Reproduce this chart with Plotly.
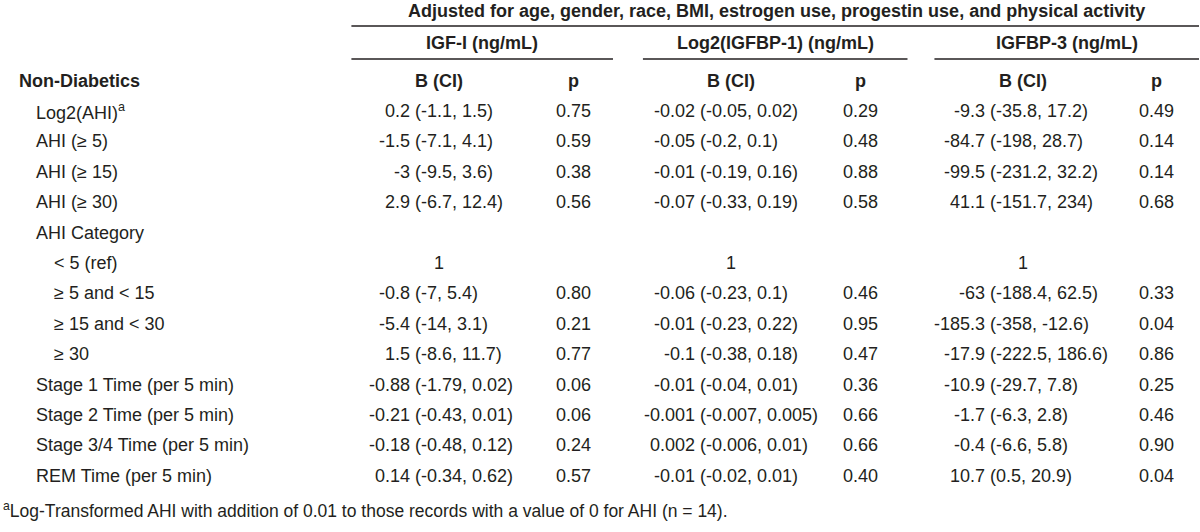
import plotly.graph_objects as go

# ---------------- data ----------------
title_text = "Adjusted for age, gender, race, BMI, estrogen use, progestin use, and physical activity"
group_names = ["IGF-I (ng/mL)", "Log2(IGFBP-1) (ng/mL)", "IGFBP-3 (ng/mL)"]
section_label = "Non-Diabetics"
row_labels = ["Log2(AHI)<sup>a</sup>", "AHI (≥ 5)", "AHI (≥ 15)", "AHI (≥ 30)", "AHI Category",
              "< 5 (ref)", "≥ 5 and < 15", "≥ 15 and < 30", "≥ 30",
              "Stage 1 Time (per 5 min)", "Stage 2 Time (per 5 min)",
              "Stage 3/4 Time (per 5 min)", "REM Time (per 5 min)"]
row_indent = [0, 0, 0, 0, 0, 1, 1, 1, 1, 0, 0, 0, 0]

igf1_b = ["0.2", "-1.5", "-3", "2.9", "", "1", "-0.8", "-5.4", "1.5", "-0.88", "-0.21", "-0.18", "0.14"]
igf1_ci = ["(-1.1, 1.5)", "(-7.1, 4.1)", "(-9.5, 3.6)", "(-6.7, 12.4)", "", "", "(-7, 5.4)", "(-14, 3.1)",
           "(-8.6, 11.7)", "(-1.79, 0.02)", "(-0.43, 0.01)", "(-0.48, 0.12)", "(-0.34, 0.62)"]
igf1_p = ["0.75", "0.59", "0.38", "0.56", "", "", "0.80", "0.21", "0.77", "0.06", "0.06", "0.24", "0.57"]

bp1_b = ["-0.02", "-0.05", "-0.01", "-0.07", "", "1", "-0.06", "-0.01", "-0.1", "-0.01", "-0.001", "0.002", "-0.01"]
bp1_ci = ["(-0.05, 0.02)", "(-0.2, 0.1)", "(-0.19, 0.16)", "(-0.33, 0.19)", "", "", "(-0.23, 0.1)",
          "(-0.23, 0.22)", "(-0.38, 0.18)", "(-0.04, 0.01)", "(-0.007, 0.005)", "(-0.006, 0.01)", "(-0.02, 0.01)"]
bp1_p = ["0.29", "0.48", "0.88", "0.58", "", "", "0.46", "0.95", "0.47", "0.36", "0.66", "0.66", "0.40"]

bp3_b = ["-9.3", "-84.7", "-99.5", "41.1", "", "1", "-63", "-185.3", "-17.9", "-10.9", "-1.7", "-0.4", "10.7"]
bp3_ci = ["(-35.8, 17.2)", "(-198, 28.7)", "(-231.2, 32.2)", "(-151.7, 234)", "", "", "(-188.4, 62.5)",
          "(-358, -12.6)", "(-222.5, 186.6)", "(-29.7, 7.8)", "(-6.3, 2.8)", "(-6.6, 5.8)", "(0.5, 20.9)"]
bp3_p = ["0.49", "0.14", "0.14", "0.68", "", "", "0.33", "0.04", "0.86", "0.25", "0.46", "0.90", "0.04"]

footnote = "<sup>a</sup>Log-Transformed AHI with addition of 0.01 to those records with a value of 0 for AHI (n = 14)."

# ---------------- layout / style ----------------
W, H = 1200, 532
FONT = "Liberation Sans, Arial, sans-serif"
FS = 18
COL = "#231f20"

groups = [
    dict(b=igf1_b, ci=igf1_ci, p=igf1_p, x0=351, x1=613, bc=439, paren=415, pc=573),
    dict(b=bp1_b, ci=bp1_ci, p=bp1_p, x0=643, x1=908, bc=731, paren=700, pc=861),
    dict(b=bp3_b, ci=bp3_ci, p=bp3_p, x0=935, x1=1200, bc=1024, paren=991, pc=1157),
]
row_y0, row_dy = 111, 30.4
y_title, y_line1, y_group, y_line2, y_head = 11, 26, 43, 59, 81
y_foot = 510

ann = []
shapes = []


def add(text, x, y, anchor="left", bold=False, size=FS):
    if bold:
        text = "<b>" + text + "</b>"
    ann.append(dict(text=text, x=x, y=y, xref="x", yref="y", xanchor=anchor, yanchor="middle",
                    showarrow=False, font=dict(family=FONT, size=size, color=COL)))


add(title_text, 777, y_title, "center", bold=True)
shapes.append(dict(type="line", xref="x", yref="y", x0=351, x1=1200, y0=y_line1, y1=y_line1,
                   line=dict(color=COL, width=1.5)))
for g, name in zip(groups, group_names):
    add(name, (g["x0"] + g["x1"]) / 2, y_group, "center", bold=True)
    shapes.append(dict(type="line", xref="x", yref="y", x0=g["x0"], x1=g["x1"], y0=y_line2, y1=y_line2,
                       line=dict(color=COL, width=1.5)))
    add("B (CI)", g["bc"], y_head, "center", bold=True)
    add("p", g["pc"], y_head, "center", bold=True)

add(section_label, 16, y_head, "left", bold=True)

for i, lab in enumerate(row_labels):
    y = row_y0 + i * row_dy
    add(lab, 33 + 18 * row_indent[i], y, "left")
    for g in groups:
        b, ci, p = g["b"][i], g["ci"][i], g["p"][i]
        if b and not ci:
            add(b, g["bc"], y, "center")
        elif b:
            add(b, g["paren"] - 3, y, "right")
            add(ci, g["paren"] - 2, y, "left")
        if p:
            add(p, g["pc"], y, "center")

add(footnote, 0, y_foot, "left", size=17.5)

fig = go.Figure()
fig.update_layout(
    width=W, height=H, margin=dict(l=0, r=0, t=0, b=0),
    paper_bgcolor="white", plot_bgcolor="white",
    xaxis=dict(range=[-1, W + 1], visible=False, fixedrange=True),
    yaxis=dict(range=[H, 0], visible=False, fixedrange=True),
    annotations=ann, shapes=shapes, showlegend=False,
)
fig.write_html("out.html", config={"displayModeBar": False},
               post_script="document.body.style.margin='0px';document.body.style.padding='0px';")
